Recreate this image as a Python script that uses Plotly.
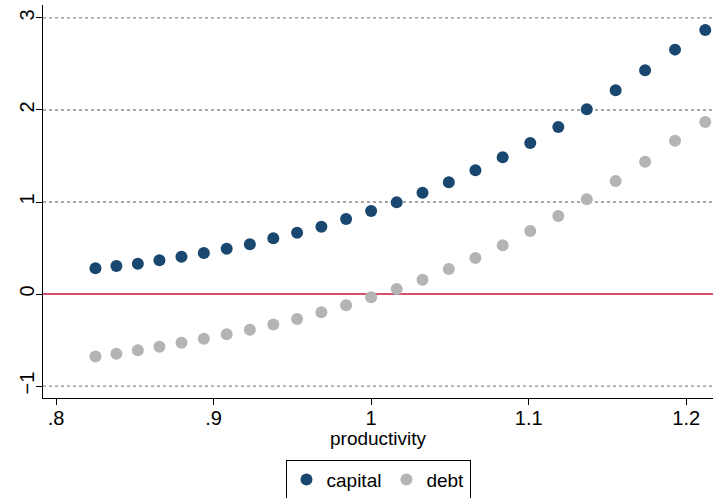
import plotly.graph_objects as go

productivity = [0.8250, 0.8383, 0.8519, 0.8656, 0.8796, 0.8938, 0.9083, 0.9230,
                0.9379, 0.9530, 0.9684, 0.9841, 1.0000, 1.0162, 1.0326, 1.0493,
                1.0662, 1.0835, 1.1010, 1.1188, 1.1369, 1.1552, 1.1739, 1.1929, 1.2121]
capital = [0.279, 0.304, 0.330, 0.366, 0.406, 0.446, 0.493, 0.540, 0.605, 0.667,
           0.732, 0.815, 0.902, 0.996, 1.101, 1.214, 1.344, 1.486, 1.641, 1.815,
           2.007, 2.214, 2.431, 2.656, 2.870]
debt = [-0.678, -0.649, -0.612, -0.572, -0.529, -0.486, -0.438, -0.388, -0.330, -0.272,
        -0.199, -0.123, -0.036, 0.054, 0.156, 0.272, 0.391, 0.529, 0.685, 0.848,
        1.029, 1.228, 1.438, 1.666, 1.870]
x_ticks = [0.8, 0.9, 1.0, 1.1, 1.2]
x_tick_labels = [".8", ".9", "1", "1.1", "1.2"]
y_ticks = [-1, 0, 1, 2, 3]
y_tick_labels = ["\u22121", "0", "1", "2", "3"]

FONT = "Liberation Sans, Arial, sans-serif"

fig = go.Figure()
fig.add_trace(go.Scatter(x=productivity, y=capital, mode="markers", name="capital",
                         cliponaxis=False,
                         marker=dict(color="#1a476f", size=12, line=dict(width=0))))
fig.add_trace(go.Scatter(x=productivity, y=debt, mode="markers", name="debt",
                         cliponaxis=False,
                         marker=dict(color="#b4b4b4", size=12, line=dict(width=0))))

# dotted grid lines (excluding zero) and red zero line
for v in [1, 2, 3, -1]:
    fig.add_hline(y=v, line=dict(color="#8c8c8c", width=1.3, dash="dot"), layer="below")
fig.add_hline(y=0, line=dict(color="#c8173f", width=1.6), layer="below")

fig.add_annotation(text="productivity", x=0.5, xref="paper", y=-0.1018, yref="paper",
                   xanchor="center", yanchor="middle", showarrow=False,
                   font=dict(size=19, color="black"))

fig.update_layout(
    width=713, height=498,
    margin=dict(l=43, r=0, t=5, b=100, autoexpand=False),
    paper_bgcolor="white", plot_bgcolor="white",
    font=dict(family=FONT, size=19, color="black"),
    showlegend=True,
    legend=dict(orientation="h", x=0.5, xanchor="center", y=-0.157, yanchor="top",
                bordercolor="black", borderwidth=1, font=dict(size=19),
                tracegroupgap=0),
    xaxis=dict(range=[0.7917, 1.217], tickvals=x_ticks, ticktext=x_tick_labels,
               automargin=False,
               showgrid=False, zeroline=False, showline=True, linecolor="black",
               linewidth=1.2, ticks="outside", ticklen=6, tickcolor="black",
               tickfont=dict(size=20), ticklabelstandoff=-4),
    yaxis=dict(range=[-1.13, 3.141], tickvals=y_ticks, ticktext=y_tick_labels,
               automargin=False,
               showgrid=False, zeroline=False, showline=True, linecolor="black",
               linewidth=1.2, ticks="outside", ticklen=6, tickcolor="black",
               tickangle=-90, tickfont=dict(size=20), ticklabelstandoff=-6),
)

fig.write_html("out.html", config={"displayModeBar": False},
               post_script="document.body.style.margin='0';document.body.style.overflow='hidden';")
